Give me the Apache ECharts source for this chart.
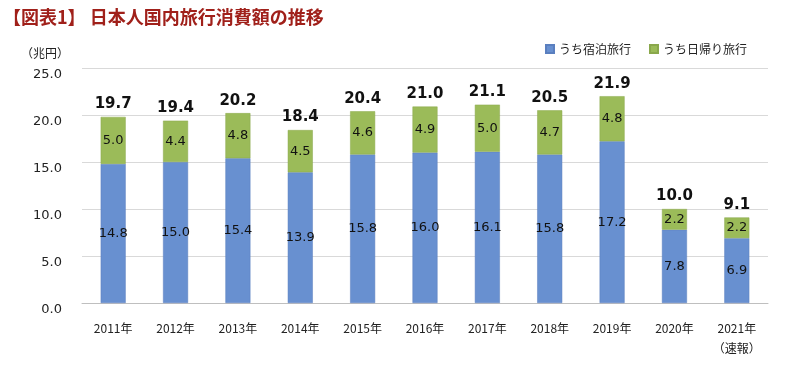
<!DOCTYPE html>
<html>
<head>
<meta charset="utf-8">
<script src="https://cdn.jsdelivr.net/npm/echarts@6/dist/echarts.min.js"></script>
<style>
  html, body { margin: 0; padding: 0; background: #fff; }
  #main { width: 800px; height: 376px; }
</style>
</head>
<body>
<div id="main"></div>
<script>
let years = ['2011年', '2012年', '2013年', '2014年', '2015年', '2016年',
             '2017年', '2018年', '2019年', '2020年', '2021年\n（速報）'];
let stay = [14.8, 15.0, 15.4, 13.9, 15.8, 16.0, 16.1, 15.8, 17.2, 7.8, 6.9];
let dayTrip = [5.0, 4.4, 4.8, 4.5, 4.6, 4.9, 5.0, 4.7, 4.8, 2.2, 2.2];
let totals = [19.7, 19.4, 20.2, 18.4, 20.4, 21.0, 21.1, 20.5, 21.9, 10.0, 9.1];

let font = "'Noto Sans CJK JP', sans-serif";
let numFont = "'DejaVu Sans', 'Noto Sans CJK JP', sans-serif";

let option = {
  textStyle: { fontFamily: font },
  title: {
    text: '【図表1】 日本人国内旅行消費額の推移',
    left: -2,
    top: 3,
    textStyle: { color: '#a0201a', fontSize: 18, fontWeight: 'bold', fontFamily: font }
  },
  legend: {
    right: 48,
    top: 38,
    itemWidth: 8,
    itemHeight: 8,
    itemGap: 18,
    icon: 'rect',
    textStyle: { fontSize: 12, color: '#222', fontFamily: font },
    data: ['うち宿泊旅行', 'うち日帰り旅行']
  },
  grid: { left: 82, right: 32, top: 68, bottom: 73 },
  xAxis: {
    type: 'category',
    data: years,
    axisLine: { lineStyle: { color: '#bfbfbf' } },
    axisTick: { show: false },
    axisLabel: {
      interval: 0, color: '#222', fontSize: 12, margin: 15, lineHeight: 20,
      fontFamily: font
    }
  },
  yAxis: {
    type: 'value',
    min: 0,
    max: 25,
    interval: 5,
    name: '（兆円）',
    nameLocation: 'end',
    nameGap: 9,
    nameTextStyle: { color: '#222', fontSize: 12, align: 'right', padding: [0, 13, 0, 0], fontFamily: font },
    axisLine: { show: false },
    axisTick: { show: false },
    splitLine: { lineStyle: { color: '#d9d9d9' } },
    axisLabel: {
      color: '#222', fontSize: 13, margin: 20, fontFamily: numFont, verticalAlign: 'top',
      formatter: function (v) { return v.toFixed(1); }
    }
  },
  series: [
    {
      name: 'うち宿泊旅行',
      type: 'bar',
      stack: 'total',
      barWidth: 25,
      data: stay,
      itemStyle: { color: '#6890d0', borderColor: '#5a7fbf', borderWidth: 0.5 },
      label: {
        show: true, position: 'inside', color: '#111', fontSize: 13, fontFamily: numFont,
        formatter: function (p) { return p.value.toFixed(1); }
      }
    },
    {
      name: 'うち日帰り旅行',
      type: 'bar',
      stack: 'total',
      barWidth: 25,
      data: dayTrip,
      itemStyle: { color: '#9bbb59', borderColor: '#8aa84c', borderWidth: 0.5 },
      label: {
        show: true, position: 'inside', color: '#111', fontSize: 13, fontFamily: numFont,
        formatter: function (p) { return p.value.toFixed(1); }
      }
    },
    {
      name: '合計',
      type: 'bar',
      stack: 'total',
      barWidth: 25,
      data: totals.map(function () { return 0; }),
      itemStyle: { color: 'transparent' },
      label: {
        show: true, position: 'top', distance: 5, color: '#111', fontSize: 15,
        fontWeight: 'bold', fontFamily: numFont,
        formatter: function (p) { return totals[p.dataIndex].toFixed(1); }
      },
      tooltip: { show: false }
    }
  ]
};

let myChart = echarts.init(document.getElementById('main'));
myChart.setOption(option);
window.addEventListener('resize', function () {
  myChart.resize();
}, false);
</script>
</body>
</html>
